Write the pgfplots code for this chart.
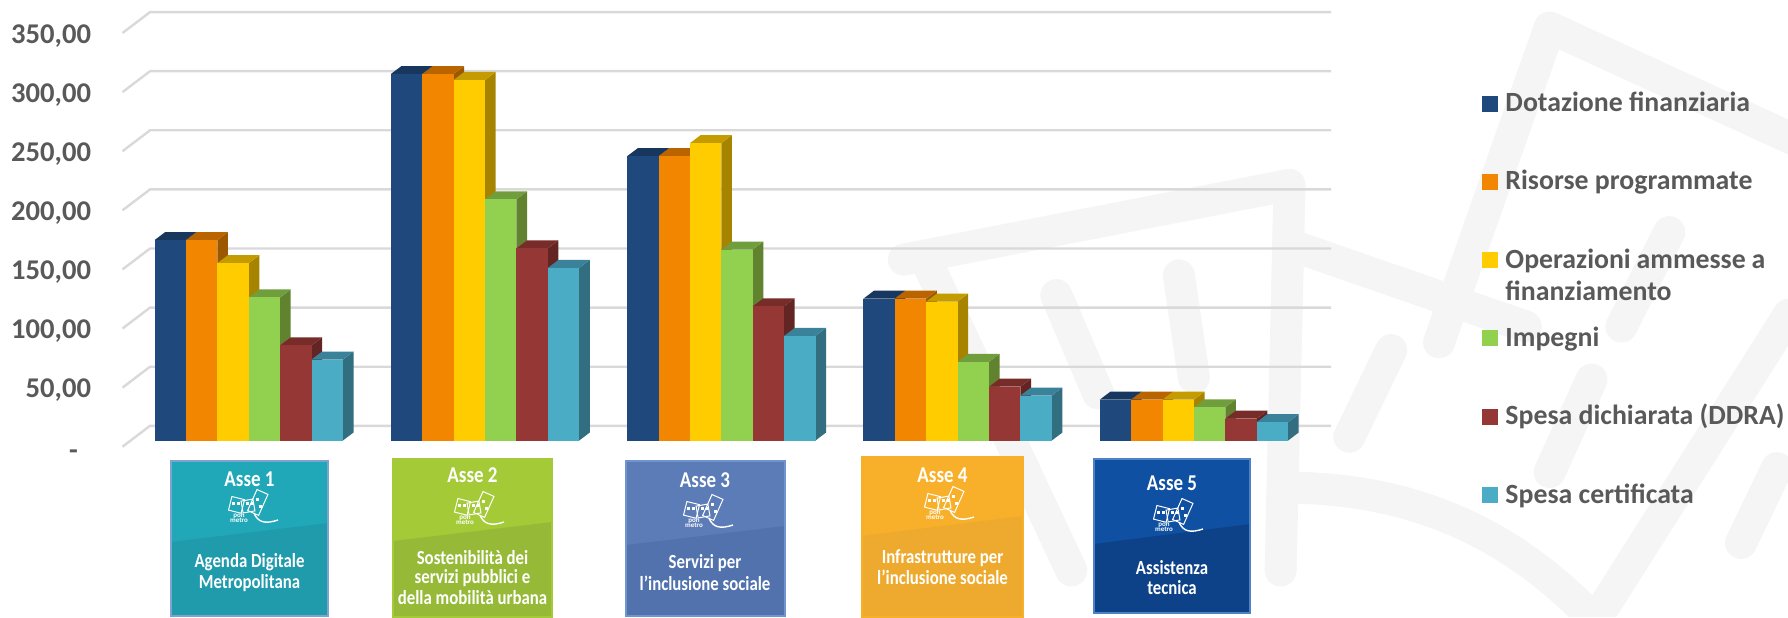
\documentclass[border=0pt]{standalone}
\usepackage{fontspec}
\usepackage{graphicx}
\usepackage{pgfplots}
\usepackage{pgfplotstable}
\pgfplotsset{compat=1.18}
\setmainfont{Carlito}

% 1 px of the reference = 0.5pt here
\definecolor{gridc}{HTML}{D9D9D9}
\definecolor{txtc}{HTML}{595959}
\definecolor{wmark}{HTML}{F5F5F5}
\definecolor{cDot}{HTML}{1F497D}   \definecolor{cDotT}{HTML}{17375E}  \definecolor{cDotS}{HTML}{152F52}
\definecolor{cRis}{HTML}{F38600}   \definecolor{cRisT}{HTML}{BA6400}  \definecolor{cRisS}{HTML}{9C5800}
\definecolor{cOpe}{HTML}{FFCC00}   \definecolor{cOpeT}{HTML}{C49C00}  \definecolor{cOpeS}{HTML}{A78400}
\definecolor{cImp}{HTML}{92D050}   \definecolor{cImpT}{HTML}{719E3D}  \definecolor{cImpS}{HTML}{618330}
\definecolor{cDic}{HTML}{953735}   \definecolor{cDicT}{HTML}{772C2A}  \definecolor{cDicS}{HTML}{632523}
\definecolor{cCer}{HTML}{4BACC6}   \definecolor{cCerT}{HTML}{39829A}  \definecolor{cCerS}{HTML}{316F80}

\pgfplotstableread{
g dot ris ope imp dic cer
0 169.5 169.5 150.0 121.0 80.5 68.5
1 310.0 310.0 305.0 204.0 162.5 146.0
2 240.5 240.5 251.5 161.5 113.5 88.5
3 120.0 120.0 117.5 66.5 45.5 38.0
4 34.5 34.5 34.5 28.0 18.5 15.5
}\assi

% one 3d bar, drawn from its value: side, top, then front so the next series overlaps it
\pgfdeclareplotmark{bar3d}{%
  \pgfmathsetlengthmacro\xL{\barshift-7.85pt}%
  \pgfmathsetlengthmacro\xR{\barshift+7.85pt}%
  \pgfmathsetlengthmacro\xLd{\barshift-7.85pt+5.3pt}%
  \pgfmathsetlengthmacro\xRd{\barshift+7.85pt+5.3pt}%
  \pgfmathsetlengthmacro\hh{\barv*0.591pt}%
  \pgfsetfillcolor{faceS}%
  \pgfpathmoveto{\pgfpoint{\xR}{0pt}}%
  \pgfpathlineto{\pgfpoint{\xRd}{4pt}}%
  \pgfpathlineto{\pgfpoint{\xRd}{4pt-\hh}}%
  \pgfpathlineto{\pgfpoint{\xR}{-\hh}}%
  \pgfpathclose\pgfusepathqfill
  \pgfsetfillcolor{faceT}%
  \pgfpathmoveto{\pgfpoint{\xL}{0pt}}%
  \pgfpathlineto{\pgfpoint{\xLd}{4pt}}%
  \pgfpathlineto{\pgfpoint{\xRd}{4pt}}%
  \pgfpathlineto{\pgfpoint{\xR}{0pt}}%
  \pgfpathclose\pgfusepathqfill
  \pgfsetfillcolor{faceF}%
  \pgfpathrectangle{\pgfpoint{\xL}{-\hh}}{\pgfpoint{15.7pt}{\hh}}%
  \pgfusepathqfill
}
\pgfplotsset{
  bar3/.style n args={4}{only marks, scatter, mark=bar3d, forget plot,
    visualization depends on={rawy \as \barv},
    scatter/@pre marker code/.code={\pgfscope\def\barshift{#4}\colorlet{faceF}{#1}\colorlet{faceT}{#2}\colorlet{faceS}{#3}},
    scatter/@post marker code/.code={\endpgfscope}},
  legsq/.style={legend image code/.code={\fill[fill=#1,draw=none] (0pt,0pt) rectangle (8pt,8pt);}},
}
\newcommand\legtxt[1]{\vrule width 0pt height 20pt\hspace*{3.5pt}#1}
\newcommand\cn[1]{\scalebox{.84}[1]{#1}}

% little city logo of the Asse cards
\newcommand\logo[2]{%
  \begin{scope}[shift={(#1,#2)},white,line width=.5pt,x=.5pt,y=-.5pt]
    \draw[rotate around={-14:(-15,-3)}] (-22,-10) rectangle (-9,4);
    \draw[rotate around={10:(-4,-2)}] (-10,-8) rectangle (2,4);
    \draw[rotate around={-24:(6,-6)}] (0,-17) rectangle (12,6);
    \foreach \a in {-20,-15,-6,-1} \fill (\a,-6) rectangle +(2.5,3);
    \fill (4,-10) rectangle +(2.5,3); \fill (7,-3) rectangle +(2.5,3);
    \draw[line width=.7pt] (2,5) .. controls (6,15) and (14,16) .. (26,12);
    \node[font=\bfseries\fontsize{3.5}{3.5}\selectfont,align=center,inner sep=0pt] at (-13,10) {pon\\[-1pt]metro};
  \end{scope}}
% one Asse card: x0 x1 y0 y1 yleft yright top bottom edge
\newcommand\card[9]{%
  \fill[#7] (#1,#3) rectangle (#2,#4);
  \fill[#8] (#1,#5) -- (#2,#6) -- (#2,#4) -- (#1,#4) -- cycle;
  \draw[#9,line width=.8pt] (#1,#3) rectangle (#2,#4);}
\newcommand\cardtxt[3]{\node[white,font=\bfseries\fontsize{#3}{#3}\selectfont,inner sep=0pt] at (#1,#2)}

\begin{document}
\begin{tikzpicture}
\useasboundingbox (0,0) rectangle (894pt,308.5pt);

% watermark behind the chart (coordinates as read off a crop from x=850)
\begin{scope}[shift={(425pt,308.5pt)},x=.299pt,y=-.1967pt,wmark,line width=16pt,line cap=round,line join=round]
  \clip (-1422,0) rectangle (1570,1568);
  \draw (90,660) -- (735,470) -- (720,1450);
  \draw (130,670) -- (370,1450);
  \draw (345,750) -- (415,1000);
  \draw (550,700) -- (575,960);
  \draw (750,630) -- (1130,830);
  \draw (1600,370) -- (1170,70) -- (985,870);
  \draw (1370,590) -- (1290,830);
  \draw (905,890) -- (835,1110);
  \draw (1240,965) -- (1170,1200);
  \draw (1570,800) -- (1250,1568);
  \draw (1550,1190) -- (1490,1380);
  \draw (750,1240) .. controls (1000,1250) and (1150,1420) .. (1260,1600);
\end{scope}

\begin{axis}[
    at={(0,0)}, anchor=south west,
    scale only axis, width=894pt, height=308.5pt,
    xmin=-1.0525, xmax=6.5142, ymin=-149.32, ymax=372.67,
    clip=false,
    axis line style={draw=none}, major tick length=0pt,
    xtick=\empty,
    ytick={0,50,100,150,200,250,300,350},
    yticklabels={\raisebox{-5pt}[0pt][0pt]{-}\hspace*{6.5pt},{50,00},{100,00},{150,00},{200,00},{250,00},{300,00},{350,00}},
    yticklabel style={font=\bfseries\fontsize{14.3}{14.3}\selectfont, text=txtc, anchor=east,
      inner sep=0pt, xshift=45.7pt, yshift=-4.5pt},
    legend cell align=left,
    legend columns=1,
    legend style={at={(0.8289,0.8847)}, anchor=north west, draw=none, fill=none,
      inner sep=0pt, row sep=17.65pt, nodes={inner sep=0pt, text=txtc},
      cells={anchor=base west},
      font=\bfseries\fontsize{13.9}{13.9}\selectfont},
]
\pgfplotsinvokeforeach{0,50,100,150,200,250,300,350}{
  \draw[gridc,line width=1.2pt] ([yshift=-3.1pt]axis cs:-0.534,#1) -- ([yshift=7.35pt]axis cs:-0.4177,#1) -- ([yshift=7.35pt]axis cs:4.581,#1);
}
\addlegendimage{legsq=cDot}\addlegendentry{\legtxt{Dotazione finanziaria}}
\addlegendimage{legsq=cRis}\addlegendentry{\legtxt{Risorse programmate}}
\addlegendimage{legsq=cOpe}\addlegendentry{\legtxt{\smash{\parbox[t]{130pt}{\baselineskip=16pt Operazioni ammesse a\\finanziamento}}}}
\addlegendimage{legsq=cImp}\addlegendentry{\legtxt{Impegni}}
\addlegendimage{legsq=cDic}\addlegendentry{\legtxt{Spesa dichiarata (DDRA)}}
\addlegendimage{legsq=cCer}\addlegendentry{\legtxt{Spesa certificata}}

\addplot[bar3={cDot}{cDotT}{cDotS}{-39.25pt}] table[x=g,y=dot] {\assi};
\addplot[bar3={cRis}{cRisT}{cRisS}{-23.55pt}] table[x=g,y=ris] {\assi};
\addplot[bar3={cOpe}{cOpeT}{cOpeS}{-7.85pt}] table[x=g,y=ope] {\assi};
\addplot[bar3={cImp}{cImpT}{cImpS}{7.85pt}] table[x=g,y=imp] {\assi};
\addplot[bar3={cDic}{cDicT}{cDicS}{23.55pt}] table[x=g,y=dic] {\assi};
\addplot[bar3={cCer}{cCerT}{cCerS}{39.25pt}] table[x=g,y=cer] {\assi};
\end{axis}

% Asse cards under the groups, in reference pixels
\begin{scope}[shift={(0,308.5pt)},x=.5pt,y=-.5pt]
  \definecolor{a1t}{HTML}{20A8B8}\definecolor{a1b}{HTML}{1F9BAB}\definecolor{a1e}{HTML}{7FA3D0}
  \definecolor{a2t}{HTML}{A4CA38}\definecolor{a2b}{HTML}{96BA38}\definecolor{a2e}{HTML}{A4CA38}
  \definecolor{a3t}{HTML}{5C7CB8}\definecolor{a3b}{HTML}{5272AE}\definecolor{a3e}{HTML}{6F94CF}
  \definecolor{a4t}{HTML}{F8B02A}\definecolor{a4b}{HTML}{EEAA2E}\definecolor{a4e}{HTML}{F8B02A}
  \definecolor{a5t}{HTML}{0F50A2}\definecolor{a5b}{HTML}{0D4288}\definecolor{a5e}{HTML}{4F82C4}
  \card{171}{328}{461}{616}{542}{523}{a1t}{a1b}{a1e}
  \card{393}{552}{459}{617}{541}{522}{a2t}{a2b}{a2e}
  \card{626}{785}{461}{616}{545}{526}{a3t}{a3b}{a3e}
  \card{862}{1023}{457}{617}{536}{516}{a4t}{a4b}{a4e}
  \card{1094}{1250}{459}{613}{544}{524}{a5t}{a5b}{a5e}
  \cardtxt{249.5}{479}{11.3}{\cn{Asse 1}};
  \cardtxt{249.5}{562}{10}{\cn{Agenda Digitale}};
  \cardtxt{249.5}{583}{10}{\cn{Metropolitana}};
  \cardtxt{472.5}{475}{11.3}{\cn{Asse 2}};
  \cardtxt{472.5}{558}{10}{\cn{Sostenibilità dei}};
  \cardtxt{472.5}{578}{10}{\cn{servizi pubblici e}};
  \cardtxt{472.5}{598}{10}{\cn{della mobilità urbana}};
  \cardtxt{705}{480}{11.3}{\cn{Asse 3}};
  \cardtxt{705}{563}{10}{\cn{Servizi per}};
  \cardtxt{705}{583}{10}{\cn{l’inclusione sociale}};
  \cardtxt{942.5}{475}{11.3}{\cn{Asse 4}};
  \cardtxt{942.5}{558}{10}{\cn{Infrastrutture per}};
  \cardtxt{942.5}{577}{10}{\cn{l’inclusione sociale}};
  \cardtxt{1172}{483}{11.3}{\cn{Asse 5}};
  \cardtxt{1172}{568}{10}{\cn{Assistenza}};
  \cardtxt{1172}{588}{10}{\cn{tecnica}};
  \logo{252}{508}\logo{478}{510}\logo{707}{513}\logo{948}{505}\logo{1177}{517}
\end{scope}
\end{tikzpicture}
\end{document}
